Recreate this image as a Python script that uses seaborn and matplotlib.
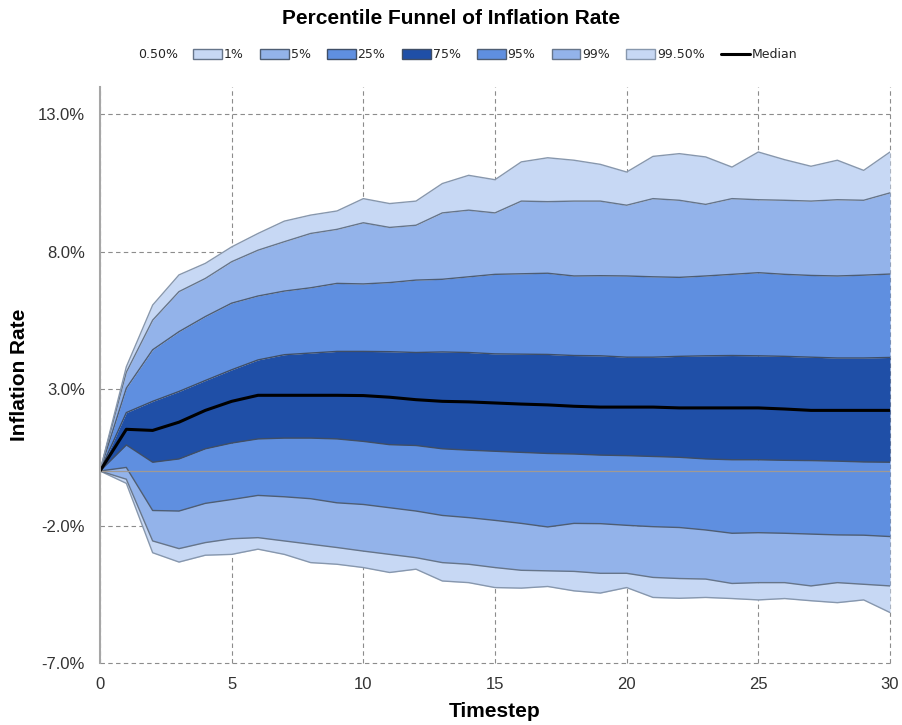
import matplotlib
matplotlib.use("Agg")
import matplotlib.pyplot as plt
import numpy as np
import pandas as pd
import seaborn as sns
from matplotlib.patches import Patch
from matplotlib.lines import Line2D
from matplotlib.ticker import FuncFormatter

# Simulated inflation-rate percentiles (%) by timestep
timesteps = list(range(31))

p0_5 = [0, -0.45, -2.98, -3.32, -3.07, -3.04, -2.85, -3.04, -3.34, -3.40, -3.52,
        -3.70, -3.58, -4.01, -4.07, -4.25, -4.27, -4.21, -4.37, -4.45, -4.25,
        -4.61, -4.64, -4.61, -4.65, -4.70, -4.65, -4.73, -4.80, -4.70, -5.16]
p1 = [0, -0.30, -2.55, -2.83, -2.61, -2.47, -2.43, -2.55, -2.67, -2.79, -2.92,
      -3.04, -3.16, -3.34, -3.40, -3.52, -3.62, -3.64, -3.66, -3.73, -3.73,
      -3.88, -3.92, -3.94, -4.10, -4.07, -4.07, -4.19, -4.07, -4.13, -4.19]
p5 = [0, 0.13, -1.44, -1.46, -1.18, -1.04, -0.89, -0.94, -1.01, -1.16, -1.22,
      -1.34, -1.46, -1.62, -1.70, -1.80, -1.91, -2.04, -1.91, -1.92, -1.98,
      -2.03, -2.06, -2.15, -2.27, -2.25, -2.27, -2.30, -2.33, -2.34, -2.39]
p25 = [0, 0.95, 0.32, 0.44, 0.81, 1.02, 1.17, 1.20, 1.20, 1.17, 1.08,
       0.96, 0.93, 0.81, 0.76, 0.72, 0.68, 0.64, 0.62, 0.58, 0.56,
       0.53, 0.50, 0.44, 0.41, 0.41, 0.39, 0.38, 0.36, 0.33, 0.32]
median = [0, 1.52, 1.48, 1.78, 2.21, 2.54, 2.76, 2.76, 2.76, 2.76, 2.75,
          2.69, 2.60, 2.54, 2.52, 2.48, 2.44, 2.41, 2.36, 2.33, 2.33,
          2.33, 2.30, 2.30, 2.30, 2.30, 2.26, 2.21, 2.21, 2.21, 2.21]
p75 = [0, 2.13, 2.54, 2.90, 3.30, 3.69, 4.05, 4.24, 4.30, 4.36, 4.36,
       4.35, 4.32, 4.34, 4.32, 4.27, 4.26, 4.25, 4.21, 4.20, 4.15,
       4.15, 4.18, 4.20, 4.21, 4.20, 4.18, 4.15, 4.12, 4.12, 4.14]
p95 = [0, 3.02, 4.42, 5.08, 5.63, 6.12, 6.38, 6.56, 6.68, 6.84, 6.82,
       6.87, 6.96, 6.99, 7.08, 7.17, 7.19, 7.21, 7.11, 7.12, 7.11,
       7.08, 7.06, 7.11, 7.17, 7.23, 7.17, 7.13, 7.11, 7.14, 7.18]
p99 = [0, 3.60, 5.50, 6.54, 7.02, 7.63, 8.05, 8.36, 8.66, 8.81, 9.05,
       8.88, 8.96, 9.41, 9.51, 9.41, 9.84, 9.82, 9.84, 9.84, 9.69,
       9.93, 9.87, 9.72, 9.93, 9.89, 9.87, 9.84, 9.89, 9.87, 10.14]
p99_5 = [0, 3.80, 6.05, 7.15, 7.57, 8.17, 8.66, 9.11, 9.33, 9.48, 9.93,
         9.75, 9.84, 10.48, 10.78, 10.62, 11.27, 11.42, 11.33, 11.18, 10.90,
         11.47, 11.57, 11.45, 11.08, 11.63, 11.35, 11.11, 11.33, 10.96, 11.63]

percentile_labels = ["0.50%", "1%", "5%", "25%", "75%", "95%", "99%", "99.50%"]
percentile_series = [p0_5, p1, p5, p25, p75, p95, p99, p99_5]
y_ticks = [-7, -2, 3, 8, 13]
x_ticks = [0, 5, 10, 15, 20, 25, 30]

LIGHT = "#c7d8f4"
MIDLIGHT = "#93b3ea"
MID = "#5f8fe0"
DARK = "#1f4fa7"
band_colors = [LIGHT, MIDLIGHT, MID, DARK, MID, MIDLIGHT, LIGHT]
edge_colors = {
    "0.50%": "#8797ad", "1%": "#66758a", "5%": "#4e5d73", "25%": "#3f4e66",
    "75%": "#3f4e66", "95%": "#4e5d73", "99%": "#66758a", "99.50%": "#8797ad",
}

sns.set_theme(style="white")
plt.rcParams["font.family"] = ["Liberation Sans", "DejaVu Sans"]

fig = plt.figure(figsize=(9.02, 7.25), dpi=100)
ax = fig.add_axes([100 / 902, 1 - 663 / 725, 790 / 902, 576 / 725])

# Stacked percentile bands
for lo, hi, color in zip(percentile_series[:-1], percentile_series[1:], band_colors):
    ax.fill_between(timesteps, lo, hi, color=color, linewidth=0, zorder=2)

# Percentile boundary lines
long = pd.DataFrame({
    "Timestep": np.tile(timesteps, len(percentile_labels)),
    "Value": np.concatenate(percentile_series),
    "Percentile": np.repeat(percentile_labels, len(timesteps)),
})
sns.lineplot(data=long, x="Timestep", y="Value", hue="Percentile",
             palette=edge_colors, hue_order=percentile_labels, legend=False,
             errorbar=None, linewidth=1.0, ax=ax, zorder=3)

# Zero axis line and median path
ax.axhline(0, color="#a09a94", linewidth=0.9, zorder=4)
sns.lineplot(x=timesteps, y=median, color="black", linewidth=2.2,
             errorbar=None, ax=ax, zorder=5)

ax.set_xlim(0, 30)
ax.set_ylim(-7, 14)
ax.set_xticks(x_ticks)
ax.set_yticks(y_ticks)
ax.yaxis.set_major_formatter(FuncFormatter(lambda v, _: f"{v:.1f}%"))
ax.tick_params(axis="both", length=0, labelsize=12, labelcolor="#333333")
ax.tick_params(axis="y", pad=11)
ax.tick_params(axis="x", pad=10)

ax.set_axisbelow(True)
ax.grid(True, linestyle=(0, (4, 3)), color="#8c8c8c", linewidth=0.8)
for gl in ax.get_xgridlines() + ax.get_ygridlines():
    gl.set_clip_on(False)
for side in ["top", "right", "bottom"]:
    ax.spines[side].set_visible(False)
ax.spines["left"].set_color("#a6a6a6")
ax.spines["left"].set_linewidth(1.5)
ax.spines["left"].set_zorder(6)

ax.set_xlabel("Timestep", fontsize=15, fontweight="bold", color="black")
ax.set_ylabel("Inflation Rate", fontsize=15, fontweight="bold", color="black")
ax.xaxis.set_label_coords(0.5, -0.068)
ax.yaxis.set_label_coords(-0.09, 0.5)

fig.text(0.5, 1 - 18 / 725, "Percentile Funnel of Inflation Rate",
         ha="center", va="center", fontsize=15, fontweight="bold", color="black")

# Legend: the lowest percentile is the invisible base series (label only)
handles = [Patch(facecolor=c, edgecolor=edge_colors[lab], linewidth=1.0)
           for lab, c in zip(percentile_labels[1:], band_colors)]
handles.append(Line2D([0], [0], color="black", linewidth=2.2))
labels = percentile_labels[1:] + ["Median"]
fig.text(138 / 902, 1 - 55 / 725, percentile_labels[0], ha="left", va="center",
         fontsize=9, family="DejaVu Sans", color="#222222")
fig.legend(handles, labels, loc="center left",
           bbox_to_anchor=(193 / 902, 1 - 55 / 725), ncol=8, frameon=False,
           prop={"family": "DejaVu Sans", "size": 9},
           handlelength=2.3, handleheight=0.8, handletextpad=0.16,
           columnspacing=1.3, borderpad=0, borderaxespad=0)

fig.savefig("out.png", dpi=100)
